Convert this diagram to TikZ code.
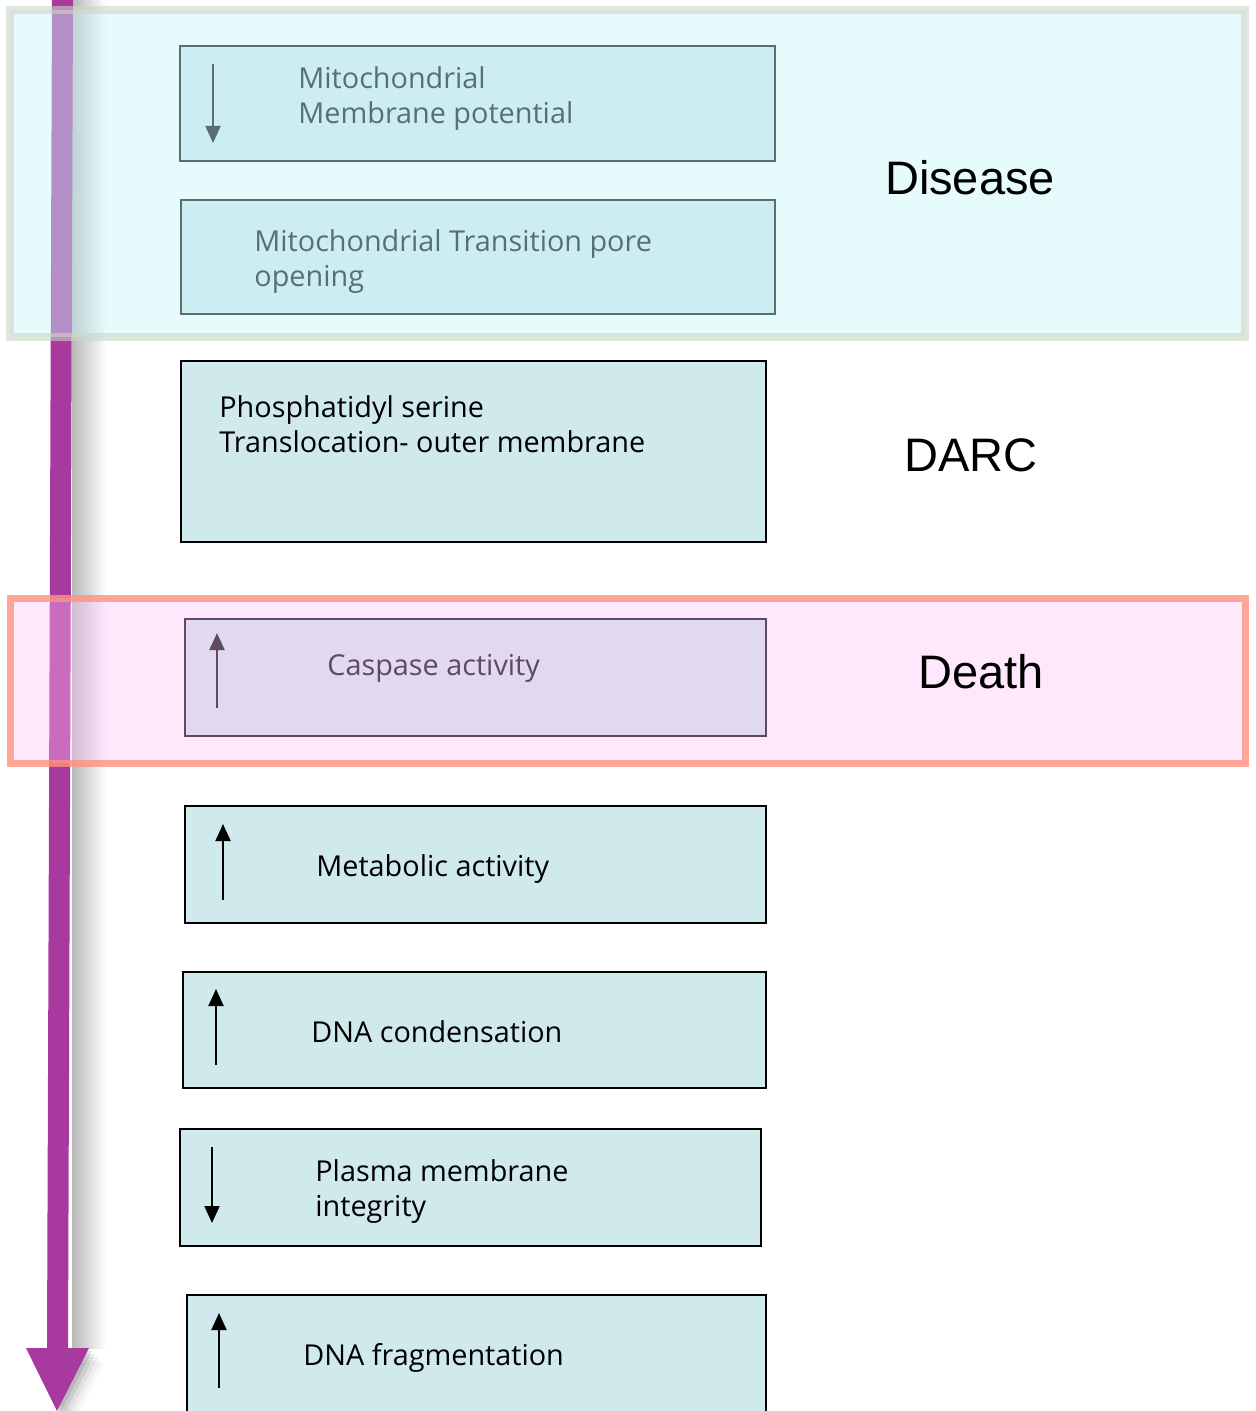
\documentclass[tikz,border=0pt]{standalone}
\usepackage{fontspec}
\setmainfont{Liberation Sans}
\newfontfamily\comic{Open Sans}
\usetikzlibrary{arrows.meta,fit}
\definecolor{boxfill}{RGB}{208,233,237}
\definecolor{purp}{RGB}{168,57,159}
\definecolor{disfill}{RGB}{200,246,249}
\definecolor{disedge}{RGB}{203,213,197}
\definecolor{dthfill}{RGB}{255,193,248}
\definecolor{dthedge}{RGB}{255,146,127}
\begin{document}
\begin{tikzpicture}[x=0.5pt,y=-0.5pt,
  stage/.style={draw=black, line width=1.2pt, fill=boxfill, rectangle, inner sep=0pt},
  lbl/.style={font=\comic\fontsize{14.4}{17.5}\selectfont, anchor=base west, align=left, inner sep=0pt},
  ind/.style={line width=1pt, -{Triangle[length=8.5pt,width=7.5pt]}},
  tag/.style={font=\fontsize{23.5}{28}\selectfont, anchor=base, inner sep=0pt},
  band/.style={rectangle, inner sep=0pt, line width=4pt}]
\useasboundingbox (0,0) rectangle (1256,1411);
\clip (0,0) rectangle (1256,1411);
% shadow of the timeline arrow
\shade[left color=black!28, right color=white] (72,-5) rectangle (106,1348);
\foreach \d/\o in {3/0.10,6/0.08,9/0.06,12/0.04,15/0.03}{
  \fill[black, opacity=\o] (26+\d,1348+\d) -- (89+\d,1348+\d) -- (57+\d,1411+\d) -- cycle;
}
% timeline arrow
\fill[purp] (52,-5) -- (73,-5) -- (68,1348) -- (89,1348) -- (57,1411) -- (26,1348) -- (47,1348) -- cycle;
% boxes
\node[stage, fit={(180,46) (775,161)}] (b1) {};
\node[stage, fit={(181,200) (775,314)}] (b2) {};
\node[stage, fit={(181,361) (766,542)}] (b3) {};
\node[stage, fit={(185,619) (766,736)}] (b4) {};
\node[stage, fit={(185,806) (766,923)}] (b5) {};
\node[stage, fit={(183,972) (766,1088)}] (b6) {};
\node[stage, fit={(180,1129) (761,1246)}] (b7) {};
\node[stage, fit={(187,1295) (766,1430)}] (b8) {};
% texts (two-line nodes are anchored at the baseline of their last line)
\node[lbl] (t1) at (298,124) {Mitochondrial\\Membrane potential};
\node[lbl] (t2) at (254,287) {Mitochondrial Transition pore\\opening};
\node[lbl] (t3) at (219,452) {Phosphatidyl serine\\Translocation- outer membrane};
\node[lbl] (t4) at (327,675) {Caspase activity};
\node[lbl] (t5) at (316,876) {Metabolic activity};
\node[lbl] (t6) at (311,1042) {DNA condensation};
\node[lbl] (t7) at (315,1216) {Plasma membrane\\integrity};
\node[lbl] (t8) at (303,1365) {DNA fragmentation};
% indicator arrows
\coordinate (a1s) at (213,64);   \coordinate (a1e) at (213,143);
\coordinate (a4s) at (217,708);  \coordinate (a4e) at (217,633);
\coordinate (a5s) at (223,900);  \coordinate (a5e) at (223,824);
\coordinate (a6s) at (216,1065); \coordinate (a6e) at (216,989);
\coordinate (a7s) at (212,1147); \coordinate (a7e) at (212,1223);
\coordinate (a8s) at (219,1388); \coordinate (a8e) at (219,1313);
\draw[ind] (a1s) -- (a1e);
\draw[ind] (a4s) -- (a4e);
\draw[ind] (a5s) -- (a5e);
\draw[ind] (a6s) -- (a6e);
\draw[ind] (a7s) -- (a7e);
\draw[ind] (a8s) -- (a8e);
% translucent bands
\node[band, fit={(10,10) (1245,337)}, fill=disfill, fill opacity=0.45, draw=disedge, draw opacity=0.6] (disease) {};
\node[band, fit={(10,598) (1245,763)}, fill=dthfill, fill opacity=0.38, draw=dthedge, draw opacity=0.8, line width=3.5pt] (death) {};
% stage labels
\node[tag] (l1) at (970,195) {Disease};
\node[tag] (l2) at (971,471) {DARC};
\node[tag] (l3) at (981,688) {Death};
\end{tikzpicture}
\end{document}
